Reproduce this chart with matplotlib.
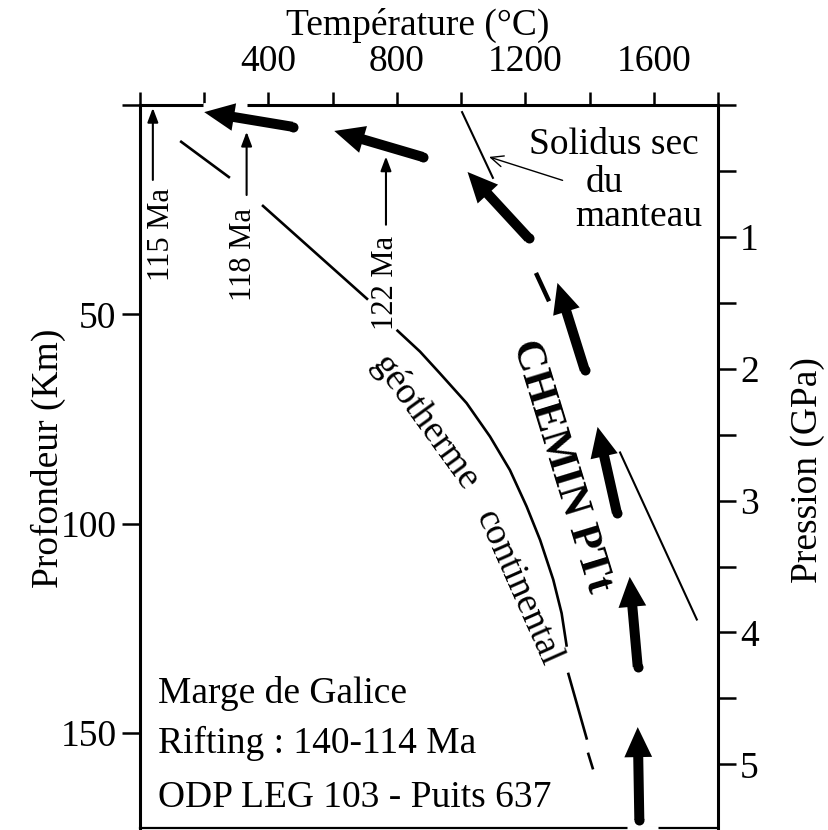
import numpy as np
import matplotlib
matplotlib.use('Agg')
from matplotlib import pyplot as plt
from matplotlib.patches import FancyArrowPatch, ArrowStyle

plt.rcParams['font.family'] = ['Liberation Serif', 'DejaVu Serif']

# axes
temp_ticks = list(range(0, 1801, 200))
temp_labels = [str(t) if t in (400, 800, 1200, 1600) else '' for t in temp_ticks]
depth_ticks = [0, 50, 100, 150]
depth_labels = ['', '50', '100', '150']
press_ticks = [0, 0.5, 1, 1.5, 2, 2.5, 3, 3.5, 4, 4.5, 5, 5.5]
press_labels = ['', '', '1', '', '2', '', '3', '', '4', '', '5', '']
KM_PER_GPA = 31.5
DEPTH_MAX = 172.7

# chemin PTt (gros fleches) : queue -> pointe
ptt_tail_T = [475, 880, 1210, 1385, 1485, 1550, 1555]
ptt_tail_D = [5.2, 12.4, 31.8, 63.3, 97.4, 134.2, 170.8]
ptt_tip_T = [200, 605, 1020, 1300, 1425, 1525, 1550]
ptt_tip_D = [1.7, 6.2, 16.0, 42.5, 76.9, 112.7, 148.6]
ptt_dash_T = [1236, 1271]
ptt_dash_D = [40.6, 46.4]

# geotherme continental (morceaux)
geo_segments = [
    ([125, 280], [8.6, 17.4]),
    ([380, 710], [23.9, 46.5]),
    ([799, 872, 934, 1017, 1090, 1152, 1204, 1246, 1287, 1313, 1329],
     [53.7, 58.9, 64.1, 71.2, 79.2, 87.2, 95.9, 103.9, 113.4, 121.4, 129.4]),
    ([1333, 1392], [135.6, 151.6]),
    ([1395, 1411], [154.7, 158.7]),
]

# solidus sec du manteau
solidus_T = [1003, 1099]
solidus_D = [1.7, 17.4]

# trait fin parallele
thin_T = [1495, 1734]
thin_D = [83.0, 122.9]

# ages
age_labels = ['115 Ma', '118 Ma', '122 Ma']
age_T = [40, 332, 766]
age_tail_D = [17.9, 21.5, 28.6]
age_tip_D = [0.7, 6.4, 12.3]
age_text_T = [68, 321, 763]
age_text_D = [31.0, 35.8, 42.5]

fig = plt.figure(figsize=(8.29, 8.30), dpi=100, facecolor='white')
ax = fig.add_axes([140 / 829, 2 / 830, 578 / 829, 723 / 830])
ax.set_xlim(0, 1800)
ax.set_ylim(DEPTH_MAX, 0)

for s in ax.spines.values():
    s.set_linewidth(2.2)
ax.spines['bottom'].set_linewidth(1.6)
ax.spines['right'].set_visible(False)

ax.xaxis.tick_top()
ax.set_xticks(temp_ticks, temp_labels)
ax.tick_params(axis='x', direction='out', length=9.5, width=1.8, labelsize=27, pad=9)
ax.set_yticks(depth_ticks, depth_labels)
ax.tick_params(axis='y', direction='out', length=13, width=1.8, labelsize=27, pad=4)

sec = ax.secondary_yaxis('right', functions=(lambda d: d / KM_PER_GPA, lambda p: p * KM_PER_GPA))
sec.set_yticks(press_ticks, press_labels)
sec.tick_params(direction='out', length=13, width=1.8, labelsize=27, pad=3)
sec.spines['right'].set_linewidth(2.2)

# coupures des axes
ax.plot([197, 333], [0, 0], color='white', lw=3.5, solid_capstyle='butt', zorder=4, clip_on=False)
ax.plot([1517, 1613], [DEPTH_MAX, DEPTH_MAX], color='white', lw=3.5, solid_capstyle='butt',
        zorder=4, clip_on=False)

# geotherme
for gT, gD in geo_segments:
    ax.plot(gT, gD, color='black', lw=1.9, solid_capstyle='butt', zorder=3)

ax.plot(solidus_T, solidus_D, color='black', lw=1.5, zorder=3)
ax.plot(thin_T, thin_D, color='black', lw=1.5, zorder=3)
ax.plot(ptt_dash_T, ptt_dash_D, color='black', lw=3.2, zorder=3)

# grosses fleches
big = ArrowStyle('simple', head_length=2.16, head_width=2.0, tail_width=0.72)
for tT, tD, hT, hD in zip(ptt_tail_T, ptt_tail_D, ptt_tip_T, ptt_tip_D):
    ax.add_patch(FancyArrowPatch((tT, tD), (hT, hD), arrowstyle=big, mutation_scale=10,
                                 color='black', lw=0, shrinkA=0, shrinkB=0, zorder=5, clip_on=False))
    ax.plot([tT], [tD], 'o', ms=7.2, color='black', mew=0, zorder=5, clip_on=False)

# fleches des ages
for lab, x, d0, d1, tx, ty in zip(age_labels, age_T, age_tail_D, age_tip_D, age_text_T, age_text_D):
    ax.annotate('', xy=(x, d1), xytext=(x, d0),
                arrowprops=dict(arrowstyle='-|>,head_length=0.85,head_width=0.32', lw=1.5,
                                color='black', shrinkA=0, shrinkB=0, mutation_scale=10))
    ax.text(tx, ty, lab, rotation=90, ha='center', va='center', fontsize=22)

# solidus
ax.annotate('', xy=(1087, 12.4), xytext=(1316, 18.0),
            arrowprops=dict(arrowstyle='->,head_length=0.9,head_width=0.4', lw=1.0,
                            color='black', shrinkA=0, shrinkB=0, mutation_scale=10))
ax.text(1476, 9.6, 'Solidus sec', ha='center', va='center', fontsize=27)
ax.text(1445, 18.6, 'du', ha='center', va='center', fontsize=27)
ax.text(1554, 26.7, 'manteau', ha='center', va='center', fontsize=27)

# textes inclines
ax.text(1311, 86.2, 'CHEMIN PTt', rotation=-73, rotation_mode='anchor', ha='center', va='center',
        fontsize=31, fontweight='bold')
ax.text(887, 75.9, 'géotherme', rotation=-54, rotation_mode='anchor', ha='center', va='center',
        fontsize=27)
ax.text(1177, 115.4, 'continental', rotation=-66, rotation_mode='anchor', ha='center', va='center',
        fontsize=27)

# bloc en bas
ax.text(56, 142.8, 'Marge de Galice', ha='left', va='baseline', fontsize=27)
ax.text(56, 154.8, 'Rifting : 140-114 Ma', ha='left', va='baseline', fontsize=27)
ax.text(56, 167.7, 'ODP LEG 103 - Puits 637', ha='left', va='baseline', fontsize=27)

# titres d'axes
fig.text(418 / 829, 1 - 35 / 830, 'Température (°C)', ha='center', va='baseline', fontsize=27)
fig.text(48 / 829, 1 - 458 / 830, 'Profondeur (Km)', rotation=90, ha='center', va='center', fontsize=27)
fig.text(808 / 829, 1 - 470 / 830, 'Pression (GPa)', rotation=90, ha='center', va='center', fontsize=27)

fig.savefig('out.png', dpi=100, facecolor='white')
